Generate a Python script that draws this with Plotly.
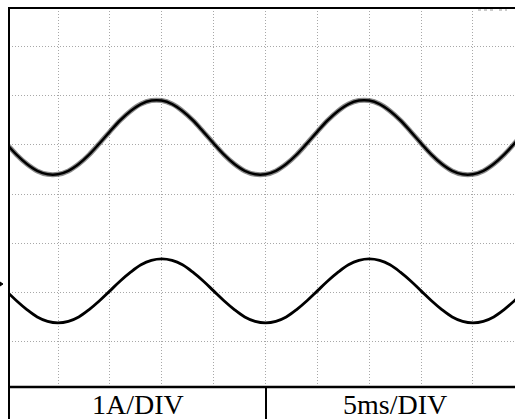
import plotly.graph_objects as go

# time axis in ms (5 ms / div), vertical axis in divisions
time_ms = list(range(0, 51))

# upper (noisy) trace, divisions
upper_div = [1.03, 0.80, 0.61, 0.47, 0.40, 0.40, 0.47, 0.61, 0.80, 1.03,
             1.27, 1.50, 1.69, 1.83, 1.90, 1.90, 1.83, 1.69, 1.50, 1.27,
             1.03, 0.80, 0.61, 0.47, 0.40, 0.40, 0.47, 0.61, 0.80, 1.03,
             1.27, 1.50, 1.69, 1.83, 1.90, 1.90, 1.83, 1.69, 1.50, 1.27,
             1.03, 0.80, 0.61, 0.47, 0.40, 0.40, 0.47, 0.61, 0.80, 1.03,
             1.27]

# lower (clean) trace, divisions
lower_div = [-1.97, -2.17, -2.35, -2.50, -2.59, -2.62, -2.59, -2.50, -2.35, -2.17,
             -1.97, -1.77, -1.59, -1.44, -1.35, -1.32, -1.35, -1.44, -1.59, -1.77,
             -1.97, -2.17, -2.35, -2.50, -2.59, -2.62, -2.59, -2.50, -2.35, -2.17,
             -1.97, -1.77, -1.59, -1.44, -1.35, -1.32, -1.35, -1.44, -1.59, -1.77,
             -1.97, -2.17, -2.35, -2.50, -2.59, -2.62, -2.59, -2.50, -2.35, -2.17,
             -1.97]

labels = ["1A/DIV", "5ms/DIV"]

fig = go.Figure()
fig.add_trace(go.Scatter(x=time_ms, y=upper_div, mode="lines",
                         line=dict(color="rgba(90,90,90,0.7)", width=5, shape="spline"),
                         hoverinfo="skip", showlegend=False))
fig.add_trace(go.Scatter(x=time_ms, y=upper_div, mode="lines",
                         line=dict(color="black", width=2.5, shape="spline"),
                         showlegend=False))
fig.add_trace(go.Scatter(x=time_ms, y=lower_div, mode="lines",
                         line=dict(color="black", width=2.8, shape="spline"),
                         showlegend=False))

W, H = 515, 419
L, T, B, R = 9, 8, 32, 0
pw, ph = W - L - R, H - T - B

def px(x):
    return (x - L) / pw

def py(y):
    return (H - B - y) / ph

shapes = [
    dict(type="line", xref="paper", yref="paper", x0=px(8), x1=px(520), y0=1, y1=1,
         line=dict(color="black", width=2)),
    dict(type="line", xref="paper", yref="paper", x0=0, x1=0, y0=py(7), y1=py(425),
         line=dict(color="black", width=2)),
    dict(type="line", xref="paper", yref="paper", x0=0, x1=px(520), y0=0, y1=0,
         line=dict(color="black", width=2.5)),
    dict(type="line", xref="paper", yref="paper", x0=px(266), x1=px(266), y0=0, y1=py(425),
         line=dict(color="black", width=2)),
    dict(type="line", xref="paper", yref="paper", x0=px(478), x1=px(495), y0=py(10), y1=py(10),
         line=dict(color="#bbbbbb", width=1.5, dash="dot")),
    dict(type="line", xref="paper", yref="paper", x0=px(499), x1=px(507), y0=py(10), y1=py(10),
         line=dict(color="#bbbbbb", width=1.5, dash="dot")),
    dict(type="path", xref="paper", yref="paper",
         path=f"M {px(0)},{py(282)} L {px(3)},{py(284)} L {px(0)},{py(286)} Z",
         fillcolor="black", line=dict(color="black", width=1)),
]

annotations = [
    dict(text=labels[0], xref="paper", yref="paper", x=px(138), y=py(404),
         xanchor="center", yanchor="middle", showarrow=False,
         font=dict(family="Liberation Serif", size=28, color="black")),
    dict(text=labels[1], xref="paper", yref="paper", x=px(395), y=py(404),
         xanchor="center", yanchor="middle", showarrow=False,
         font=dict(family="Liberation Serif", size=28, color="black")),
]

grid = dict(showgrid=True, gridcolor="#a8a8a8", griddash="1px,2px", gridwidth=1,
            zeroline=False, showline=False, ticks="", showticklabels=False)

fig.update_layout(
    width=W, height=H,
    margin=dict(l=L, r=R, t=T, b=B, pad=0),
    paper_bgcolor="white", plot_bgcolor="white",
    shapes=shapes, annotations=annotations,
    xaxis=dict(range=[0.277, 49.05], tick0=0, dtick=5, **grid),
    yaxis=dict(range=[-3.925, 3.783], tick0=0, dtick=1, **grid),
)

fig.write_html("out.html")
